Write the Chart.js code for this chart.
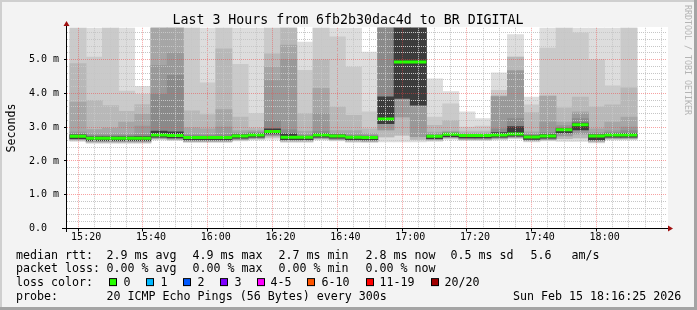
<!DOCTYPE html>
<html>
<head>
<meta charset="utf-8">
<title>smokeping 3h</title>
<script src="https://cdn.jsdelivr.net/npm/chart.js@4.4.1/dist/chart.umd.min.js"></script>
<style>
  html, body { margin: 0; padding: 0; background: #f3f3f3; }
  canvas { display: block; }
</style>
</head>
<body>
<canvas id="smoke" width="697" height="310"></canvas>
<script>
// 5 minute slots (start time of each step)
const slotStart = ['15:15','15:20','15:25','15:30','15:35','15:40','15:45','15:50','15:55',
  '16:00','16:05','16:10','16:15','16:20','16:25','16:30','16:35','16:40','16:45','16:50','16:55',
  '17:00','17:05','17:10','17:15','17:20','17:25','17:30','17:35','17:40','17:45','17:50','17:55',
  '18:00','18:05'];

// median rtt per slot (ms)
const medianRtt = [2.73,2.67,2.67,2.67,2.67,2.77,2.75,2.69,2.69,
  2.69,2.74,2.77,2.87,2.70,2.70,2.77,2.74,2.70,2.69,3.24,4.93,
  4.93,2.73,2.79,2.75,2.75,2.77,2.80,2.71,2.74,2.92,3.07,2.74,
  2.77,2.77];

// smoke: upper edges of each ping band (outer -> inner), ms
const upper1 = [6.2,6.2,6.2,6.2,4.21,6.2,6.2,6.2,6.2,
  6.2,6.2,6.2,6.2,6.2,5.52,6.2,6.2,6.2,5.22,6.2,6.2,
  6.2,4.43,4.05,3.45,3.25,4.61,5.74,3.89,6.2,6.2,6.2,6.2,
  6.2,6.2];
const upper2 = [6.2,5.07,6.2,4.07,3.97,6.2,6.2,6.2,4.31,
  6.2,4.86,3.40,6.2,6.2,4.68,6.2,5.67,4.78,3.45,6.2,6.2,
  6.2,3.30,3.69,3.00,3.03,4.09,5.07,3.66,5.34,6.2,5.79,5.00,
  4.22,6.2];
const upper3 = [4.88,3.79,3.64,3.47,3.67,6.2,6.2,3.48,3.37,
  5.32,3.30,2.97,5.17,6.2,3.40,4.99,3.60,3.35,2.95,6.2,6.2,
  6.2,3.05,3.20,2.88,2.88,3.92,5.07,3.43,3.92,3.57,3.89,3.60,
  3.66,4.16];
const upper4 = [3.74,2.93,2.97,3.15,3.38,6.2,6.2,2.98,2.95,
  3.52,2.90,2.90,4.78,5.43,2.88,4.15,2.90,2.90,2.82,6.2,6.2,
  6.2,2.85,2.88,2.83,2.83,3.92,4.68,2.86,3.92,3.15,3.45,2.95,
  3.15,3.30];
const upper5 = [2.86,2.80,2.80,2.80,3.03,4.83,5.20,2.80,2.78,
  3.00,2.83,2.86,4.38,5.00,2.80,3.41,2.82,2.80,2.77,6.2,6.2,
  6.2,2.80,2.85,2.81,2.81,3.90,4.66,2.80,3.15,3.05,3.40,2.84,
  2.90,3.00];
const upper6 = [2.80,2.75,2.75,2.75,2.78,3.97,4.53,2.76,2.75,
  2.78,2.80,2.83,3.20,2.92,2.76,2.88,2.79,2.76,2.75,6.2,6.2,
  6.2,2.77,2.83,2.79,2.79,2.95,3.25,2.77,2.84,3.00,3.25,2.80,
  2.84,2.90];
const upper7 = [2.77,2.71,2.71,2.71,2.72,2.88,2.86,2.73,2.72,
  2.73,2.77,2.80,2.95,2.80,2.73,2.81,2.77,2.73,2.72,3.90,6.2,
  6.2,2.76,2.81,2.78,2.78,2.84,3.02,2.74,2.78,2.96,3.12,2.77,
  2.80,2.82];

// smoke: lower edges (outer -> inner), ms
const lower1 = [2.58,2.52,2.52,2.52,2.52,2.62,2.60,2.54,2.54,
  2.54,2.59,2.62,2.64,2.55,2.55,2.62,2.59,2.55,2.54,2.56,2.56,
  2.56,2.58,2.64,2.60,2.60,2.62,2.65,2.56,2.59,2.58,2.58,2.53,
  2.62,2.62];
const lower2 = [2.61,2.55,2.55,2.55,2.55,2.65,2.63,2.57,2.57,
  2.57,2.62,2.65,2.70,2.58,2.58,2.65,2.62,2.58,2.57,2.71,2.76,
  2.64,2.61,2.67,2.63,2.63,2.65,2.68,2.59,2.62,2.66,2.68,2.56,
  2.65,2.65];
const lower3 = [2.63,2.57,2.57,2.57,2.57,2.67,2.65,2.59,2.59,
  2.59,2.64,2.67,2.75,2.60,2.60,2.67,2.64,2.60,2.59,2.92,3.30,
  2.72,2.63,2.69,2.65,2.65,2.67,2.70,2.61,2.64,2.74,2.80,2.59,
  2.67,2.67];
const lower4 = [2.66,2.60,2.60,2.60,2.60,2.70,2.68,2.62,2.62,
  2.62,2.67,2.70,2.80,2.63,2.63,2.70,2.67,2.63,2.62,3.10,3.85,
  3.65,2.66,2.72,2.68,2.68,2.70,2.73,2.64,2.67,2.83,2.92,2.62,
  2.70,2.70];

const timeTicks = ['15:20','15:40','16:00','16:20','16:40','17:00','17:20','17:40','18:00'];
const valueTicks = ['0.0','1.0 m','2.0 m','3.0 m','4.0 m','5.0 m'];

const lossLabels = ['0','1','2','3','4-5','6-10','11-19','20/20'];
const lossColors = ['#26ff00','#00b8ff','#0059ff','#7e00ff','#ff00ff','#ff5500','#ff0000','#a00000'];

const rttStats = ['2.9 ms avg','4.9 ms max','2.7 ms min','2.8 ms now','0.5 ms sd','5.6','am/s'];
const lossStats = ['0.00 % avg','0.00 % max','0.00 % min','0.00 % now'];

const viewStart = '15:16:40';
const viewEnd = '18:16:40';
const STEP = 5;
const Y_MAX = 5.94;

const MONO = '"DejaVu Sans Mono", monospace';
const shades = ['#dddddd','#cacaca','#b8b8b8','#a6a6a6','#999999','#8a8a8a','#3c3c3c'];
const MAJOR_GRID = 'rgba(240,70,70,0.5)';
const MINOR_GRID = '#c6c6c6';

function toMinutes(s) {
    const p = s.split(':').map(Number);
    return p[0] * 60 + p[1] + (p[2] || 0) / 60;
}

const slotMid = slotStart.map(s => toMinutes(s) + STEP / 2);
const firstTick = toMinutes(timeTicks[0]);

// band k runs from its lower edge to its upper edge, inner bands drawn on top
const upperBands = [upper1, upper2, upper3, upper4, upper5, upper6, upper7];
const lowerBands = [lower1, lower2, lower2, lower3, lower3, lower4, lower4];

const smokeSets = upperBands.map((up, k) => ({
    type: 'bar',
    data: slotMid.map((x, i) => ({ x: x, y: [lowerBands[k][i], up[i]] })),
    backgroundColor: shades[k],
    borderWidth: 0,
    barPercentage: 1,
    categoryPercentage: 1,
    grouped: false,
    order: 8 - k,
    clip: 0
}));

// median as separate horizontal steps
const medianPoints = [];
slotStart.forEach((s, i) => {
    const t = toMinutes(s);
    medianPoints.push({ x: t, y: medianRtt[i] }, { x: t + STEP, y: medianRtt[i] }, { x: t + STEP, y: null });
});

const isMajorX = c => !!c.tick && Math.abs((c.tick.value - firstTick) % 20) < 1e-6;
const isMajorY = c => !!c.tick && Math.abs(c.tick.value - Math.round(c.tick.value)) < 1e-6;

const decor = {
    id: 'decor',
    beforeDraw(chart) {
        const { ctx, chartArea: a } = chart;
        ctx.save();
        ctx.fillStyle = '#f3f3f3';
        ctx.fillRect(0, 0, 697, 310);
        ctx.fillStyle = '#cfcfcf';
        ctx.fillRect(0, 0, 697, 2);
        ctx.fillRect(0, 0, 2, 310);
        ctx.fillStyle = '#a4a4a4';
        ctx.fillRect(694, 0, 3, 310);
        ctx.fillRect(0, 307, 697, 3);
        ctx.fillStyle = '#ffffff';
        ctx.fillRect(a.left, Math.floor(a.top), a.right - a.left + 1, a.bottom - Math.floor(a.top));
        ctx.restore();
    },
    afterDraw(chart) {
        const { ctx, chartArea: a } = chart;
        ctx.save();

        // axes
        ctx.fillStyle = '#000';
        ctx.fillRect(62, 228, a.right - 60, 1);
        ctx.fillRect(66, 23, 1, 209);
        ctx.fillStyle = '#a01010';
        ctx.beginPath();
        ctx.moveTo(a.right + 1, 225.5); ctx.lineTo(a.right + 6, 228.5); ctx.lineTo(a.right + 1, 231.5);
        ctx.closePath(); ctx.fill();
        ctx.beginPath();
        ctx.moveTo(63.5, 26); ctx.lineTo(66.5, 21); ctx.lineTo(69.5, 26);
        ctx.closePath(); ctx.fill();

        // title
        ctx.fillStyle = '#000';
        ctx.font = '13.25px ' + MONO;
        ctx.textAlign = 'center';
        ctx.textBaseline = 'alphabetic';
        ctx.fillText('Last 3 Hours from 6fb2b30dac4d to BR DIGITAL', 348, 24);

        // y axis title
        ctx.font = '11.65px ' + MONO;
        ctx.save();
        ctx.translate(15, 128);
        ctx.rotate(-Math.PI / 2);
        ctx.fillText('Seconds', 0, 0);
        ctx.restore();

        // watermark
        ctx.save();
        ctx.font = '8.3px ' + MONO;
        ctx.fillStyle = '#b4b4b4';
        ctx.textAlign = 'left';
        ctx.translate(684.5, 5);
        ctx.rotate(Math.PI / 2);
        ctx.fillText('RRDTOOL / TOBI OETIKER', 0, 0);
        ctx.restore();

        // legend
        ctx.font = '11.65px ' + MONO;
        ctx.textAlign = 'left';
        ctx.fillStyle = '#000';
        const rows = [258.5, 272.3, 286.1, 300];
        ctx.fillText('median rtt:', 16, rows[0]);
        [106.5, 192.5, 278.5, 365.5, 450.5, 530.5, 571.5].forEach((x, i) => ctx.fillText(rttStats[i], x, rows[0]));
        ctx.fillText('packet loss:', 16, rows[1]);
        [106.5, 192.5, 278.5, 365.5].forEach((x, i) => ctx.fillText(lossStats[i], x, rows[1]));
        ctx.fillText('loss color:', 16, rows[2]);
        const boxX = [109, 146, 183, 220, 257, 307, 366, 431];
        const textX = [123.5, 160.5, 197.5, 234.5, 270.5, 321.5, 379.5, 444.5];
        lossLabels.forEach((lab, i) => {
            ctx.fillStyle = '#000';
            ctx.fillRect(boxX[i], rows[2] - 8, 8, 8);
            ctx.fillStyle = lossColors[i];
            ctx.fillRect(boxX[i] + 1, rows[2] - 7, 6, 6);
            ctx.fillStyle = '#000';
            ctx.fillText(lab, textX[i], rows[2]);
        });
        ctx.fillText('probe:', 16, rows[3]);
        ctx.fillText('20 ICMP Echo Pings (56 Bytes) every 300s', 106.5, rows[3]);
        ctx.fillText('Sun Feb 15 18:16:25 2026', 513, rows[3]);

        ctx.restore();
    }
};

new Chart(document.getElementById('smoke'), {
    type: 'bar',
    data: {
        datasets: [{
            type: 'line',
            data: medianPoints,
            borderColor: lossColors[0],
            borderWidth: 3,
            pointRadius: 0,
            spanGaps: false,
            order: 0,
            clip: 0
        }].concat(smokeSets)
    },
    options: {
        responsive: false,
        devicePixelRatio: 1,
        animation: false,
        events: [],
        layout: { padding: { top: 27.8, right: 30, left: 0, bottom: 0 } },
        plugins: { legend: { display: false }, tooltip: { enabled: false } },
        scales: {
            x: {
                type: 'linear',
                min: toMinutes(viewStart),
                max: toMinutes(viewEnd),
                afterFit: s => { s.height = 81.5; },
                afterBuildTicks: s => {
                    const t = [];
                    for (let v = firstTick; v < s.max; v += STEP) t.push({ value: v });
                    s.ticks = t;
                },
                ticks: {
                    autoSkip: false, maxRotation: 0, minRotation: 0, padding: 0,
                    color: '#000', font: { family: MONO, size: 10 },
                    callback: v => Math.abs((v - firstTick) % 20) < 1e-6 ? timeTicks[Math.round((v - firstTick) / 20)] : ''
                },
                grid: {
                    z: 1, lineWidth: 1, tickLength: 3,
                    color: c => isMajorX(c) ? MAJOR_GRID : MINOR_GRID,
                    tickColor: c => isMajorX(c) ? '#000' : 'rgba(0,0,0,0)'
                },
                border: { display: false, dash: [1, 1] }
            },
            y: {
                min: 0,
                max: Y_MAX,
                afterFit: s => { s.width = 67; },
                afterBuildTicks: s => {
                    const t = [];
                    for (let i = 0; i * 0.2 < s.max; i++) t.push({ value: i * 0.2 });
                    s.ticks = t;
                },
                ticks: {
                    autoSkip: false, padding: 5,
                    color: '#000', font: { family: MONO, size: 10 },
                    callback: v => Math.abs(v - Math.round(v)) < 1e-6 ? valueTicks[Math.round(v)].padEnd(5, ' ') : ''
                },
                grid: {
                    z: 1, lineWidth: 1, tickLength: 3,
                    color: c => isMajorY(c) ? MAJOR_GRID : MINOR_GRID,
                    tickColor: c => isMajorY(c) ? '#000' : 'rgba(0,0,0,0)'
                },
                border: { display: false, dash: [1, 1] }
            }
        }
    },
    plugins: [decor]
});
</script>
</body>
</html>
